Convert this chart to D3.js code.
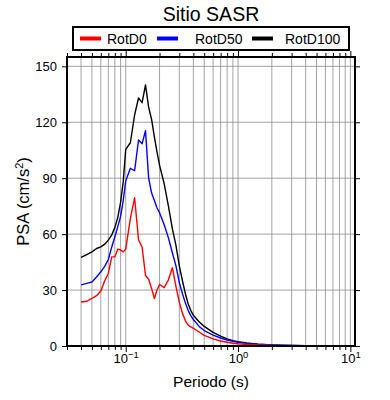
<!DOCTYPE html>
<html>
 <head>
   <meta charset="utf-8">
   <title>Sitio SASR</title>
   <script src="https://cdn.jsdelivr.net/npm/d3@7"></script>
   <style>
     body { margin: 0; background: #fff; }
     text { font-family: "Liberation Sans", Arial, sans-serif; }
   </style>
 </head>
 <body>
  <script>
    // periods (s) and PSA values (cm/s2)
    var periods = [0.04, 0.045, 0.05, 0.055, 0.06, 0.065, 0.07, 0.075, 0.08, 0.085, 0.09, 0.095,
                   0.1, 0.11, 0.12, 0.13, 0.14, 0.15, 0.16, 0.17, 0.18, 0.19, 0.2, 0.22, 0.24,
                   0.26, 0.28, 0.3, 0.32, 0.34, 0.36, 0.38, 0.4, 0.45, 0.5, 0.6, 0.7, 0.8, 0.9,
                   1.0, 1.2, 1.5, 2, 2.5, 3, 4, 5, 7, 10];
    var rotD0   = [23.6, 24, 25.5, 27, 29.5, 35, 38.9, 47.8, 47.8, 52, 51.5, 50.5,
                   52, 68.5, 79.5, 57, 53, 37.8, 35.8, 30.8, 25.5, 30, 33, 31.3, 35.5,
                   42, 32, 23.5, 17.5, 13.5, 11.2, 10.2, 9.5, 7.5, 5.7, 3.8, 2.7, 2.0, 1.5,
                   1.2, 0.8, 0.5, 0.3, 0.2, 0.15, 0.1, 0.07, 0.04, 0.02];
    var rotD50  = [32.8, 33.6, 34.3, 37, 39.8, 42.7, 46.4, 53, 58.5, 64, 69.5, 78,
                   88.5, 95.3, 94, 110.5, 108.5, 115.5, 90, 82, 78, 74, 71.5, 65, 58,
                   50, 43, 34, 28, 23, 19, 16.3, 14.2, 10.5, 8.3, 5.8, 4.3, 3.2, 2.5,
                   2.0, 1.4, 0.9, 0.5, 0.35, 0.25, 0.15, 0.1, 0.06, 0.03];
    var rotD100 = [47.5, 49, 50.5, 52.3, 53.2, 54.6, 56.8, 59.5, 63.5, 69, 77, 88,
                   105.5, 109, 124, 133, 130.5, 140, 128, 121.5, 112, 104, 97, 87, 75,
                   63, 54, 43, 35, 28, 22.5, 19, 16.5, 13, 10.5, 7.3, 5.3, 3.8, 2.9,
                   2.3, 1.6, 1.0, 0.6, 0.4, 0.3, 0.2, 0.13, 0.07, 0.04];

    var seriesNames  = ["RotD0", "RotD50", "RotD100"];
    var seriesColors = ["#ff0000", "#0000ff", "#000000"];
    var yTicks = [0, 30, 60, 90, 120, 150];
    var xDecades = [0.1, 1, 10];
    var xExponents = ["\u22121", "0", "1"];

    var width = 390, height = 400;
    var plotL = 67, plotR = 355, plotT = 57, plotB = 346;

    var svg = d3.select("body").append("svg")
                .attr("width", width)
                .attr("height", height);

    var x = d3.scaleLog().domain([0.03, 11]).range([plotL, plotR]);
    var y = d3.scaleLinear().domain([0, 155]).range([plotB, plotT]);

    var allXTicks = x.ticks();
    var minorXTicks = allXTicks.filter(function(t) { return xDecades.indexOf(t) < 0; });

    // grid
    var grid = svg.append("g").attr("stroke", "#8c8c8c").attr("stroke-width", 0.8);
    grid.selectAll("line.vx").data(allXTicks).enter().append("line")
        .attr("x1", function(d) { return x(d); }).attr("x2", function(d) { return x(d); })
        .attr("y1", plotT).attr("y2", plotB);
    grid.selectAll("line.hy").data(yTicks.slice(1)).enter().append("line")
        .attr("y1", function(d) { return y(d); }).attr("y2", function(d) { return y(d); })
        .attr("x1", plotL).attr("x2", plotR);

    // curves
    var line = d3.line()
                 .x(function(d) { return x(d[0]); })
                 .y(function(d) { return y(d[1]); });
    var curves = [rotD100, rotD50, rotD0];
    var curveColors = [seriesColors[2], seriesColors[1], seriesColors[0]];
    curves.forEach(function(vals, i) {
      svg.append("path")
         .datum(periods.map(function(p, j) { return [p, vals[j]]; }))
         .attr("fill", "none")
         .attr("stroke", curveColors[i])
         .attr("stroke-width", 1.4)
         .attr("stroke-linejoin", "round")
         .attr("d", line);
    });

    // axes
    function clean(g) { g.select(".domain").remove(); g.selectAll("line").attr("stroke", "#000"); }

    svg.append("g").attr("transform", "translate(0," + plotB + ")")
       .call(d3.axisBottom(x).tickValues(minorXTicks).tickSize(4).tickFormat(""))
       .call(clean);
    var xb = svg.append("g").attr("transform", "translate(0," + plotB + ")")
       .call(d3.axisBottom(x).tickValues(xDecades).tickSize(6).tickFormat(""))
       .call(clean);
    xb.selectAll(".tick").each(function(d, i) {
      var t = d3.select(this).append("text")
                .attr("y", 17).attr("fill", "#000")
                .attr("font-size", 13).attr("text-anchor", "middle");
      t.append("tspan").text("10");
      t.append("tspan").attr("font-size", 9.5).attr("dy", -5).text(xExponents[i]);
    });

    svg.append("g").attr("transform", "translate(0," + plotT + ")")
       .call(d3.axisTop(x).tickValues(minorXTicks).tickSize(4).tickFormat(""))
       .call(clean);
    svg.append("g").attr("transform", "translate(0," + plotT + ")")
       .call(d3.axisTop(x).tickValues(xDecades).tickSize(6).tickFormat(""))
       .call(clean);

    svg.append("g").attr("transform", "translate(" + plotL + ",0)")
       .call(d3.axisLeft(y).tickValues(yTicks).tickSize(5).tickPadding(5))
       .call(clean)
       .selectAll("text").attr("font-size", 13).attr("fill", "#000")
       .attr("font-family", "'Liberation Sans', Arial, sans-serif");
    svg.append("g").attr("transform", "translate(" + plotR + ",0)")
       .call(d3.axisRight(y).tickValues(yTicks).tickSize(5).tickFormat(""))
       .call(clean);

    // frame
    svg.append("rect")
       .attr("x", plotL).attr("y", plotT)
       .attr("width", plotR - plotL).attr("height", plotB - plotT)
       .attr("fill", "none").attr("stroke", "#000").attr("stroke-width", 2);

    // labels
    svg.append("text").attr("x", (plotL + plotR) / 2).attr("y", 21)
       .attr("text-anchor", "middle").attr("font-size", 19.5).text("Sitio SASR");

    svg.append("text").attr("x", (plotL + plotR) / 2).attr("y", 387)
       .attr("text-anchor", "middle").attr("font-size", 15.5).text("Periodo (s)");

    var yl = svg.append("text")
       .attr("transform", "translate(29," + ((plotT + plotB) / 2) + ") rotate(-90)")
       .attr("text-anchor", "middle").attr("font-size", 16.5);
    yl.append("tspan").text("PSA (cm/s");
    yl.append("tspan").attr("font-size", 11).attr("dy", -6).text("2");
    yl.append("tspan").attr("dy", 6).text(")");

    // legend
    var legend = svg.append("g");
    legend.append("rect")
          .attr("x", 73).attr("y", 27).attr("width", 276).attr("height", 23)
          .attr("fill", "#fff").attr("stroke", "#000").attr("stroke-width", 2);
    var lineX = [80, 157, 252], textX = [107, 195, 285];
    seriesNames.forEach(function(name, i) {
      legend.append("line")
            .attr("x1", lineX[i]).attr("x2", lineX[i] + 21)
            .attr("y1", 38.5).attr("y2", 38.5)
            .attr("stroke", seriesColors[i]).attr("stroke-width", 4);
      legend.append("text").attr("x", textX[i]).attr("y", 43.5)
            .attr("font-size", 14).text(name);
    });
  </script>
 </body>
</html>
